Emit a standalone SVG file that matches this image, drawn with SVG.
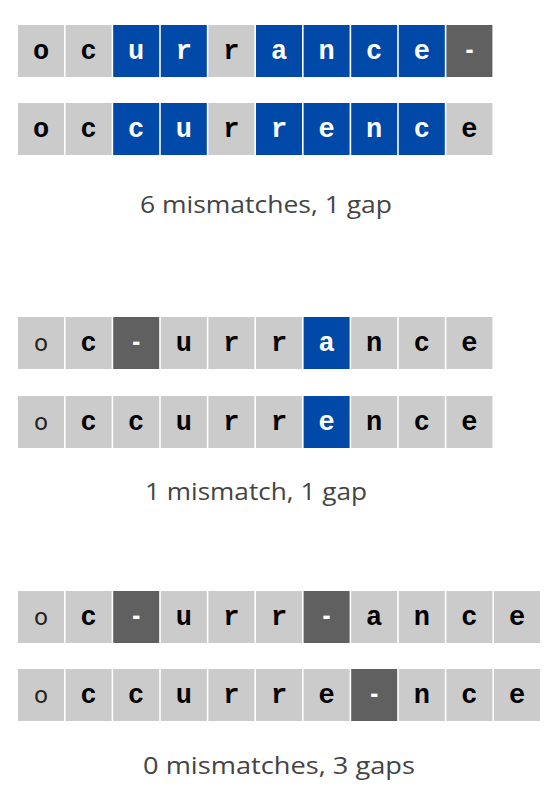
<svg xmlns="http://www.w3.org/2000/svg" width="553" height="796" viewBox="0 0 553 796">
<style>
.g{fill:#cbcbcb}
.b{fill:#0049a8}
.d{fill:#606060}
.t{font-family:"Liberation Mono",monospace;font-weight:bold;font-size:27px;text-anchor:middle;fill:#000}
.w{fill:#fff}
.o{font-family:"DejaVu Sans",sans-serif;font-weight:normal;font-size:23px;text-anchor:middle;fill:#222}
.lab{font-family:"Open Sans","DejaVu Sans",sans-serif;font-size:24px;fill:#444;text-anchor:middle}
</style>
<rect width="553" height="796" fill="#fff"/>
<g id="alignment1">
<g id="a1-top">
<rect class="g" x="18" y="25" width="46" height="52"/><text class="t" x="41" y="59">o</text>
<rect class="g" x="65.6" y="25" width="46" height="52"/><text class="t" x="88.6" y="59">c</text>
<rect class="b" x="113.2" y="25" width="46" height="52"/><text class="t w" x="136.2" y="59">u</text>
<rect class="b" x="160.8" y="25" width="46" height="52"/><text class="t w" x="183.8" y="59">r</text>
<rect class="g" x="208.4" y="25" width="46" height="52"/><text class="t" x="231.4" y="59">r</text>
<rect class="b" x="256" y="25" width="46" height="52"/><text class="t w" x="279" y="59">a</text>
<rect class="b" x="303.6" y="25" width="46" height="52"/><text class="t w" x="326.6" y="59">n</text>
<rect class="b" x="351.2" y="25" width="46" height="52"/><text class="t w" x="374.2" y="59">c</text>
<rect class="b" x="398.8" y="25" width="46" height="52"/><text class="t w" x="421.8" y="59">e</text>
<rect class="d" x="446.4" y="25" width="46" height="52"/><text class="t w" x="469.4" y="59" textLength="13" lengthAdjust="spacingAndGlyphs">-</text>
</g>
<g id="a1-bottom">
<rect class="g" x="18" y="103" width="46" height="52"/><text class="t" x="41" y="137">o</text>
<rect class="g" x="65.6" y="103" width="46" height="52"/><text class="t" x="88.6" y="137">c</text>
<rect class="b" x="113.2" y="103" width="46" height="52"/><text class="t w" x="136.2" y="137">c</text>
<rect class="b" x="160.8" y="103" width="46" height="52"/><text class="t w" x="183.8" y="137">u</text>
<rect class="g" x="208.4" y="103" width="46" height="52"/><text class="t" x="231.4" y="137">r</text>
<rect class="b" x="256" y="103" width="46" height="52"/><text class="t w" x="279" y="137">r</text>
<rect class="b" x="303.6" y="103" width="46" height="52"/><text class="t w" x="326.6" y="137">e</text>
<rect class="b" x="351.2" y="103" width="46" height="52"/><text class="t w" x="374.2" y="137">n</text>
<rect class="b" x="398.8" y="103" width="46" height="52"/><text class="t w" x="421.8" y="137">c</text>
<rect class="g" x="446.4" y="103" width="46" height="52"/><text class="t" x="469.4" y="137">e</text>
</g>
<text class="lab" x="266" y="213" textLength="252" lengthAdjust="spacingAndGlyphs">6 mismatches, 1 gap</text>
</g>
<g id="alignment2">
<g id="a2-top">
<rect class="g" x="18" y="317" width="46" height="52"/><text class="o" x="41" y="351">o</text>
<rect class="g" x="65.6" y="317" width="46" height="52"/><text class="t" x="88.6" y="351">c</text>
<rect class="d" x="113.2" y="317" width="46" height="52"/><text class="t w" x="136.2" y="351" textLength="13" lengthAdjust="spacingAndGlyphs">-</text>
<rect class="g" x="160.8" y="317" width="46" height="52"/><text class="t" x="183.8" y="351">u</text>
<rect class="g" x="208.4" y="317" width="46" height="52"/><text class="t" x="231.4" y="351">r</text>
<rect class="g" x="256" y="317" width="46" height="52"/><text class="t" x="279" y="351">r</text>
<rect class="b" x="303.6" y="317" width="46" height="52"/><text class="t w" x="326.6" y="351">a</text>
<rect class="g" x="351.2" y="317" width="46" height="52"/><text class="t" x="374.2" y="351">n</text>
<rect class="g" x="398.8" y="317" width="46" height="52"/><text class="t" x="421.8" y="351">c</text>
<rect class="g" x="446.4" y="317" width="46" height="52"/><text class="t" x="469.4" y="351">e</text>
</g>
<g id="a2-bottom">
<rect class="g" x="18" y="396" width="46" height="52"/><text class="o" x="41" y="430">o</text>
<rect class="g" x="65.6" y="396" width="46" height="52"/><text class="t" x="88.6" y="430">c</text>
<rect class="g" x="113.2" y="396" width="46" height="52"/><text class="t" x="136.2" y="430">c</text>
<rect class="g" x="160.8" y="396" width="46" height="52"/><text class="t" x="183.8" y="430">u</text>
<rect class="g" x="208.4" y="396" width="46" height="52"/><text class="t" x="231.4" y="430">r</text>
<rect class="g" x="256" y="396" width="46" height="52"/><text class="t" x="279" y="430">r</text>
<rect class="b" x="303.6" y="396" width="46" height="52"/><text class="t w" x="326.6" y="430">e</text>
<rect class="g" x="351.2" y="396" width="46" height="52"/><text class="t" x="374.2" y="430">n</text>
<rect class="g" x="398.8" y="396" width="46" height="52"/><text class="t" x="421.8" y="430">c</text>
<rect class="g" x="446.4" y="396" width="46" height="52"/><text class="t" x="469.4" y="430">e</text>
</g>
<text class="lab" x="256" y="500" textLength="222" lengthAdjust="spacingAndGlyphs">1 mismatch, 1 gap</text>
</g>
<g id="alignment3">
<g id="a3-top">
<rect class="g" x="18" y="591" width="46" height="52"/><text class="o" x="41" y="625">o</text>
<rect class="g" x="65.6" y="591" width="46" height="52"/><text class="t" x="88.6" y="625">c</text>
<rect class="d" x="113.2" y="591" width="46" height="52"/><text class="t w" x="136.2" y="625" textLength="13" lengthAdjust="spacingAndGlyphs">-</text>
<rect class="g" x="160.8" y="591" width="46" height="52"/><text class="t" x="183.8" y="625">u</text>
<rect class="g" x="208.4" y="591" width="46" height="52"/><text class="t" x="231.4" y="625">r</text>
<rect class="g" x="256" y="591" width="46" height="52"/><text class="t" x="279" y="625">r</text>
<rect class="d" x="303.6" y="591" width="46" height="52"/><text class="t w" x="326.6" y="625" textLength="13" lengthAdjust="spacingAndGlyphs">-</text>
<rect class="g" x="351.2" y="591" width="46" height="52"/><text class="t" x="374.2" y="625">a</text>
<rect class="g" x="398.8" y="591" width="46" height="52"/><text class="t" x="421.8" y="625">n</text>
<rect class="g" x="446.4" y="591" width="46" height="52"/><text class="t" x="469.4" y="625">c</text>
<rect class="g" x="494" y="591" width="46" height="52"/><text class="t" x="517" y="625">e</text>
</g>
<g id="a3-bottom">
<rect class="g" x="18" y="669" width="46" height="52"/><text class="o" x="41" y="703">o</text>
<rect class="g" x="65.6" y="669" width="46" height="52"/><text class="t" x="88.6" y="703">c</text>
<rect class="g" x="113.2" y="669" width="46" height="52"/><text class="t" x="136.2" y="703">c</text>
<rect class="g" x="160.8" y="669" width="46" height="52"/><text class="t" x="183.8" y="703">u</text>
<rect class="g" x="208.4" y="669" width="46" height="52"/><text class="t" x="231.4" y="703">r</text>
<rect class="g" x="256" y="669" width="46" height="52"/><text class="t" x="279" y="703">r</text>
<rect class="g" x="303.6" y="669" width="46" height="52"/><text class="t" x="326.6" y="703">e</text>
<rect class="d" x="351.2" y="669" width="46" height="52"/><text class="t w" x="374.2" y="703" textLength="13" lengthAdjust="spacingAndGlyphs">-</text>
<rect class="g" x="398.8" y="669" width="46" height="52"/><text class="t" x="421.8" y="703">n</text>
<rect class="g" x="446.4" y="669" width="46" height="52"/><text class="t" x="469.4" y="703">c</text>
<rect class="g" x="494" y="669" width="46" height="52"/><text class="t" x="517" y="703">e</text>
</g>
<text class="lab" x="279" y="774" textLength="272" lengthAdjust="spacingAndGlyphs">0 mismatches, 3 gaps</text>
</g>
</svg>
